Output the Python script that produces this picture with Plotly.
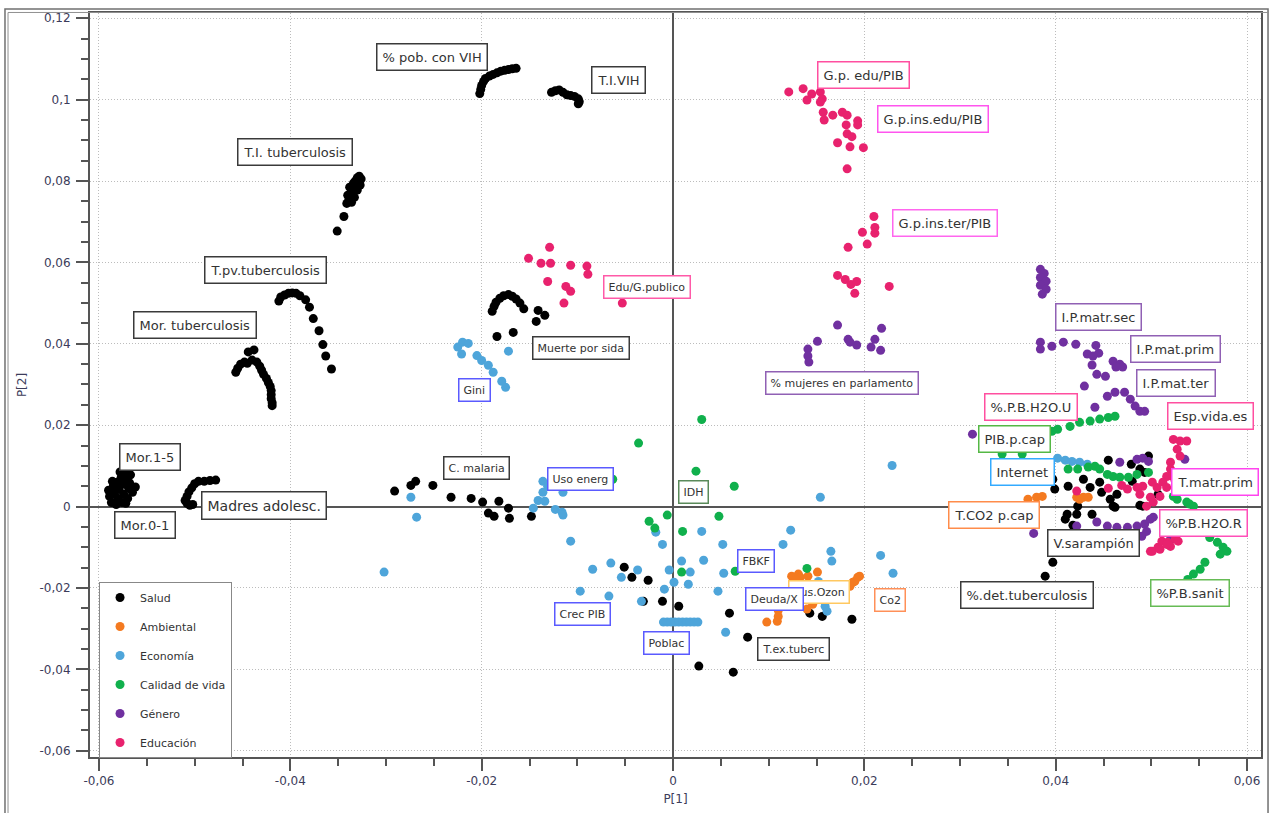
import plotly.graph_objects as go

# ---------------- data (P[1], P[2]) ----------------
salud_x = [-0.0590, -0.0589, -0.0587, -0.0585, -0.0584, -0.0582, -0.0581, -0.0580, -0.0579, -0.0577, -0.0576, -0.0575,
           -0.0574, -0.0573, -0.0571, -0.0570, -0.0569, -0.0567, -0.0565, -0.0562, -0.0586, -0.0578, -0.0572, -0.0568,
           -0.0510, -0.0508, -0.0505, -0.0502, -0.0508, -0.0506, -0.0503, -0.0500, -0.0496, -0.0490, -0.0484, -0.0478,
           -0.0457, -0.0455, -0.0452, -0.0448, -0.0445, -0.0444, -0.0440, -0.0438, -0.0435, -0.0432, -0.0430, -0.0428,
           -0.0425, -0.0423, -0.0421, -0.0420, -0.0420, -0.0420, -0.0419, -0.0419,
           -0.0412, -0.0410, -0.0406, -0.0402, -0.0398, -0.0394, -0.0390, -0.0384, -0.0380, -0.0376, -0.0370, -0.0366,
           -0.0363, -0.0357,
           -0.0351, -0.0344, -0.0341, -0.0339, -0.0340, -0.0336, -0.0338, -0.0334, -0.0332, -0.0330, -0.0328, -0.0326,
           -0.0327, -0.0330, -0.0333, -0.0336,
           -0.0202, -0.0201, -0.0200, -0.0198, -0.0196, -0.0192, -0.0188, -0.0184, -0.0180, -0.0176, -0.0172, -0.0168,
           -0.0164,
           -0.0127, -0.0123, -0.0119, -0.0115, -0.0111, -0.0107, -0.0103, -0.0099, -0.0098, -0.0099,
           -0.0189, -0.0187, -0.0185, -0.0181, -0.0177, -0.0172, -0.0168, -0.0164, -0.0160, -0.0156, -0.0141, -0.0134,
           -0.0143, -0.0184, -0.0167,
           -0.0291, -0.0274, -0.0269, -0.0251, -0.0232, -0.0211, -0.0199, -0.0182, -0.0172, -0.0193, -0.0187, -0.0171,
           -0.0148,
           -0.0051, -0.0043, -0.0026, -0.0031, -0.0011, 0.0006, 0.0059, 0.0078, 0.0027, 0.0063, 0.0143, 0.0156, 0.0187,
           0.0455, 0.0497, 0.0479, 0.0488, 0.0397, 0.0399, 0.0413, 0.0429, 0.0436, 0.0448, 0.0457, 0.0464, 0.0446,
           0.0423, 0.0412, 0.0422, 0.0438, 0.0410, 0.0418, 0.0460, 0.0462, 0.0488, 0.0491, 0.0480, 0.0493, 0.0507,
           0.0397, 0.0389]
salud_y = [0.0040, 0.0025, 0.0010, 0.0050, 0.0030, 0.0005, 0.0060, 0.0020, 0.0042, 0.0070, 0.0010, 0.0055,
           0.0030, 0.0082, 0.0065, 0.0020, 0.0045, 0.0078, 0.0035, 0.0048, 0.0062, 0.0085, 0.0008, 0.0058,
           0.0015, 0.0008, 0.0003, 0.0005, 0.0025, 0.0036, 0.0046, 0.0056, 0.0062, 0.0062, 0.0064, 0.0065,
           0.0330, 0.0340, 0.0350, 0.0355, 0.0352, 0.0380, 0.0360, 0.0385, 0.0355, 0.0345, 0.0335, 0.0325,
           0.0315, 0.0305, 0.0295, 0.0285, 0.0275, 0.0265, 0.0255, 0.0248,
           0.0505, 0.0515, 0.0520, 0.0524, 0.0525, 0.0524, 0.0518, 0.0508, 0.0490, 0.0462, 0.0432, 0.0398,
           0.0370, 0.0338,
           0.0677, 0.0713, 0.0745, 0.0752, 0.0765, 0.0772, 0.0785, 0.0795, 0.0800, 0.0808, 0.0812, 0.0805,
           0.0790, 0.0778, 0.0760, 0.0748,
           0.1015, 0.1025, 0.1035, 0.1045, 0.1052, 0.1058, 0.1062, 0.1066, 0.1070, 0.1072, 0.1074, 0.1076,
           0.1077,
           0.1018, 0.1022, 0.1024, 0.1018, 0.1012, 0.1010, 0.1008, 0.1002, 0.0995, 0.0990,
           0.0480, 0.0492, 0.0502, 0.0512, 0.0518, 0.0521, 0.0517, 0.0510, 0.0500, 0.0486, 0.0482, 0.0470,
           0.0455, 0.0418, 0.0428,
           0.0038, 0.0052, 0.0062, 0.0052, 0.0023, 0.0020, 0.0011, 0.0013, -0.0004, -0.0016, -0.0024, -0.0029,
           -0.0024,
           -0.0149, -0.0174, -0.0181, -0.0233, -0.0233, -0.0245, -0.0262, -0.0321, -0.0392, -0.0407, -0.0262, -0.0270,
           -0.0277,
           0.0114, 0.0124, 0.0104, 0.0092, 0.0067, 0.0043, 0.0050, 0.0067, 0.0047, 0.0035, 0.0018, 0.0030, 0.0060,
           0.0001, -0.0019, -0.0019, -0.0019, -0.0031, -0.0046, 0.0001, -0.0002, 0.0003, 0.0001, 0.0062, 0.0084, 0.0030,
           -0.0137, -0.0171]

ambiental_x = [0.0371, 0.0380, 0.0386, 0.0422, 0.0429, 0.0434, 0.0425,
               0.0124, 0.0131, 0.0133, 0.0141, 0.0151, 0.0140, 0.0110, 0.0110, 0.0098, 0.0109,
               0.0182, 0.0188, 0.0190, 0.0193, 0.0195, 0.0185, 0.0128, 0.0146]
ambiental_y = [0.0018, 0.0023, 0.0025, 0.0023, 0.0023, 0.0023, 0.0018,
               -0.0171, -0.0166, -0.0174, -0.0171, -0.0161, -0.0252, -0.0255, -0.0270, -0.0284, -0.0282,
               -0.0193, -0.0186, -0.0184, -0.0174, -0.0171, -0.0196, -0.0180, -0.0240]

economia_x = [-0.0225, -0.0221, -0.0220, -0.0214, -0.0205, -0.0200, -0.0193, -0.0188, -0.0179, -0.0175, -0.0172,
              -0.0302, -0.0274, -0.0268, -0.0146, -0.0141, -0.0136, -0.0136, -0.0134, -0.0123, -0.0116, -0.0115,
              -0.0115, -0.0107, -0.0131,
              -0.0084, -0.0065, -0.0054, -0.0037, -0.0097, -0.0067, -0.0033, -0.0018, -0.0011, -0.0009, -0.0004,
              0.0001, 0.0009, 0.0016, 0.0018, 0.0030, 0.0032, 0.0047, 0.0052, 0.0053, 0.0055, 0.0115, 0.0123,
              0.0154, 0.0165, 0.0166, 0.0217, 0.0230, 0.0229, 0.0159, 0.0161, 0.0152,
              -0.0010, -0.0006, -0.0002, 0.0002, 0.0006, 0.0010, 0.0014, 0.0018, 0.0022, 0.0026,
              0.0402, 0.0410, 0.0417, 0.0425, 0.0433]
economia_y = [0.0392, 0.0375, 0.0404, 0.0401, 0.0371, 0.0359, 0.0347, 0.0330, 0.0308, 0.0293, 0.0382,
              -0.0161, 0.0023, -0.0026, -0.0004, 0.0015, 0.0035, 0.0062, 0.0013, -0.0007, -0.0014, -0.0021,
              0.0035, -0.0085, 0.0050,
              -0.0154, -0.0139, -0.0174, -0.0156, -0.0208, -0.0220, -0.0233, -0.0063, -0.0093, -0.0203, -0.0156,
              -0.0186, -0.0134, -0.0191, -0.0161, -0.0061, -0.0132, -0.0208, -0.0093, -0.0164, -0.0309, -0.0093,
              -0.0058, 0.0023, -0.0110, -0.0134, -0.0120, -0.0164, 0.0101, -0.0245, -0.0257, -0.0184,
              -0.0284, -0.0284, -0.0284, -0.0284, -0.0284, -0.0284, -0.0284, -0.0284, -0.0284, -0.0284,
              0.0119, 0.0114, 0.0111, 0.0109, 0.0104]

calidad_x = [0.0030, -0.0036, 0.0024, 0.0064, -0.0063, -0.0006, -0.0025, -0.0019, 0.0010, 0.0048, 0.0009, 0.0065,
             0.0140,
             0.0387, 0.0396, 0.0402, 0.0415, 0.0425, 0.0436, 0.0446, 0.0455, 0.0462, 0.0344, 0.0365,
             0.0413, 0.0423, 0.0434, 0.0441, 0.0446, 0.0454, 0.0460, 0.0467, 0.0476, 0.0485, 0.0497,
             0.0523, 0.0540, 0.0527, 0.0537, 0.0544, 0.0554, 0.0561, 0.0569, 0.0575, 0.0579, 0.0572, 0.0556,
             0.0551, 0.0544, 0.0538]
calidad_y = [0.0214, 0.0156, 0.0087, 0.0050, 0.0067, -0.0021, -0.0036, -0.0053, -0.0061, -0.0024, -0.0161, -0.0159,
             -0.0152,
             0.0180, 0.0185, 0.0190, 0.0197, 0.0207, 0.0210, 0.0215, 0.0219, 0.0222, 0.0129, 0.0129,
             0.0092, 0.0092, 0.0097, 0.0099, 0.0092, 0.0079, 0.0074, 0.0072, 0.0072, 0.0079, 0.0084,
             0.0025, 0.0006, 0.0018, 0.0011, 0.0001, -0.0063, -0.0076, -0.0088, -0.0100, -0.0110, -0.0117, -0.0137,
             -0.0154, -0.0166, -0.0179]

genero_x = [0.0172, 0.0151, 0.0141, 0.0141, 0.0142, 0.0183, 0.0192, 0.0218, 0.0211, 0.0207, 0.0217, 0.0185,
            0.0384, 0.0388, 0.0384, 0.0390, 0.0384, 0.0390, 0.0386,
            0.0384, 0.0384, 0.0396, 0.0408, 0.0421, 0.0433, 0.0442, 0.0445, 0.0439, 0.0438, 0.0460, 0.0467,
            0.0470, 0.0463, 0.0443, 0.0452, 0.0430, 0.0454, 0.0462, 0.0472, 0.0478, 0.0483, 0.0488, 0.0493, 0.0441,
            0.0313, 0.0467, 0.0485, 0.0491, 0.0497, 0.0535, 0.0377, 0.0422, 0.0443, 0.0454, 0.0464, 0.0475,
            0.0485, 0.0493, 0.0499, 0.0502, 0.0520, 0.0490, 0.0495]
genero_y = [0.0446, 0.0406, 0.0387, 0.0370, 0.0355, 0.0411, 0.0397, 0.0438, 0.0411, 0.0392, 0.0384, 0.0404,
            0.0583, 0.0573, 0.0563, 0.0554, 0.0544, 0.0534, 0.0522,
            0.0404, 0.0387, 0.0394, 0.0404, 0.0399, 0.0375, 0.0396, 0.0377, 0.0370, 0.0348, 0.0357, 0.0350,
            0.0343, 0.0343, 0.0325, 0.0320, 0.0296, 0.0271, 0.0281, 0.0281, 0.0264, 0.0247, 0.0234, 0.0234, 0.0244,
            0.0178, 0.0109, 0.0116, 0.0119, 0.0111, 0.0116, -0.0066, -0.0048, -0.0038, -0.0048, -0.0051, -0.0051,
            -0.0048, -0.0043, -0.0031, -0.0026, -0.0080, -0.0073, -0.0061]

educacion_x = [0.0121, 0.0136, 0.0140, 0.0145, 0.0154, 0.0156, 0.0154, 0.0157, 0.0158, 0.0167, 0.0177, 0.0182,
               0.0181, 0.0193, 0.0193, 0.0182, 0.0187, 0.0172, 0.0185, 0.0199, 0.0182,
               0.0210, 0.0211, 0.0211, 0.0198, 0.0203, 0.0183, 0.0172, 0.0180, 0.0186, 0.0192, 0.0190, 0.0226,
               -0.0151, -0.0138, -0.0128, -0.0129, -0.0107, -0.0090, -0.0089, -0.0131, -0.0112, -0.0107, -0.0114,
               -0.0053,
               0.0523, 0.0530, 0.0537, 0.0527, 0.0530, 0.0520, 0.0520, 0.0516, 0.0512, 0.0506, 0.0501, 0.0491,
               0.0485, 0.0475, 0.0469, 0.0488, 0.0499, 0.0509, 0.0502, 0.0495, 0.0455, 0.0422, 0.0516, 0.0525, 0.0522,
               0.0499, 0.0507, 0.0511, 0.0517, 0.0525, 0.0520, 0.0501, 0.0509, 0.0516, 0.0528]
educacion_y = [0.1019, 0.1027, 0.0999, 0.1014, 0.1019, 0.1002, 0.0994, 0.0969, 0.0950, 0.0962, 0.0969, 0.0962,
               0.0938, 0.0948, 0.0938, 0.0916, 0.0909, 0.0894, 0.0884, 0.0882, 0.0830,
               0.0713, 0.0686, 0.0672, 0.0674, 0.0645, 0.0637, 0.0568, 0.0558, 0.0546, 0.0553, 0.0524, 0.0541,
               0.0610, 0.0598, 0.0598, 0.0637, 0.0593, 0.0591, 0.0571, 0.0553, 0.0541, 0.0529, 0.0500,
               0.0500,
               0.0165, 0.0161, 0.0161, 0.0141, 0.0124, 0.0109, 0.0092, 0.0074, 0.0060, 0.0047, 0.0060, 0.0050,
               0.0047, 0.0043, 0.0052, 0.0030, 0.0023, 0.0025, 0.0011, 0.0001, 0.0045, 0.0038, 0.0047, 0.0062, 0.0074,
               -0.0110, -0.0100, -0.0085, -0.0088, -0.0080, -0.0098, -0.0110, -0.0105, -0.0093, -0.0085]

series_names = ["Salud", "Ambiental", "Economía", "Calidad de vida", "Género", "Educación"]
series_x = [salud_x, ambiental_x, economia_x, calidad_x, genero_x, educacion_x]
series_y = [salud_y, ambiental_y, economia_y, calidad_y, genero_y, educacion_y]
series_colors = ["#000000", "#f47a20", "#4ea5da", "#10b04c", "#7030a0", "#e8226e"]

# variable labels
label_text = ["% pob. con VIH", "T.I.VIH", "T.I. tuberculosis", "T.pv.tuberculosis", "Mor. tuberculosis",
              "Mor.1-5", "Mor.0-1", "Madres adolesc.", "Muerte por sida", "Edu/G.publico", "Gini", "C. malaria",
              "Uso energ", "IDH", "% mujeres en parlamento", "G.p. edu/PIB", "G.p.ins.edu/PIB", "G.p.ins.ter/PIB",
              "I.P.matr.sec", "I.P.mat.prim", "I.P.mat.ter", "%.P.B.H2O.U", "Esp.vida.es", "PIB.p.cap", "Internet",
              "T.matr.prim", "T.CO2 p.cap", "%P.B.H2O.R", "V.sarampión", "%.det.tuberculosis", "%P.B.sanit",
              "Co2", "Sus.Ozon", "Deuda/X", "FBKF", "Crec PIB", "Poblac", "T.ex.tuberc"]
label_x = [-0.0252, -0.0057, -0.0395, -0.0426, -0.0500, -0.0547, -0.0552, -0.0428, -0.0096, -0.0027, -0.0207,
           -0.0205, -0.0097, 0.0021, 0.0177, 0.0199, 0.0272, 0.0284, 0.0445, 0.0525, 0.0526, 0.0374, 0.0562,
           0.0357, 0.0365, 0.0567, 0.0336, 0.0555, 0.0439, 0.0370, 0.0540, 0.0227, 0.0153, 0.0106, 0.0087,
           -0.0095, -0.0007, 0.0126]
label_y = [0.1105, 0.1048, 0.0871, 0.0581, 0.0446, 0.0121, -0.0046, 0.0003, 0.0389, 0.0539, 0.0286, 0.0094,
           0.0067, 0.0035, 0.0303, 0.1060, 0.0953, 0.0697, 0.0465, 0.0387, 0.0303, 0.0244, 0.0222, 0.0166,
           0.0084, 0.0060, -0.0021, -0.0041, -0.0090, -0.0218, -0.0213, -0.0230, -0.0211, -0.0228, -0.0134,
           -0.0265, -0.0336, -0.0350]
label_size = [13, 13, 13, 13, 13, 13, 13, 14, 11, 11, 11, 11, 11, 11, 11, 13, 13, 13, 13, 13, 13, 13, 13, 13,
              13, 13, 13, 13, 13, 13, 13, 11, 11, 11, 11, 11, 11, 11]
label_border = ["#3a3a3a", "#3a3a3a", "#3a3a3a", "#3a3a3a", "#3a3a3a", "#3a3a3a", "#3a3a3a", "#3a3a3a",
                "#3a3a3a", "#ff5aa8", "#5a5aff", "#3a3a3a", "#5a5aff", "#5a8a5a", "#9060b4", "#ff4fa0",
                "#ff55ee", "#ff66ee", "#9060b4", "#9060b4", "#9060b4", "#ff4fa0", "#ff4fa0", "#55b845",
                "#33aaff", "#ff44ee", "#ff8c4a", "#ff4fb8", "#3a3a3a", "#3a3a3a", "#66bb55", "#ff9058",
                "#ffc860", "#5a5aff", "#5a5aff", "#5a5aff", "#5a5aff", "#3a3a3a"]

x_tick_vals = [-0.06, -0.04, -0.02, 0, 0.02, 0.04, 0.06]
x_tick_text = ["-0,06", "-0,04", "-0,02", "0", "0,02", "0,04", "0,06"]
y_tick_vals = [-0.06, -0.04, -0.02, 0, 0.02, 0.04, 0.06, 0.08, 0.1, 0.12]
y_tick_text = ["-0,06", "-0,04", "-0,02", "0", "0,02", "0,04", "0,06", "0,08", "0,1", "0,12"]

FONT = "DejaVu Sans"
AXC = "#555555"

fig = go.Figure()
for i, name in enumerate(series_names):
    fig.add_trace(go.Scatter(
        x=series_x[i], y=series_y[i], mode="markers", name=name, legendgroup=name,
        marker=dict(color=series_colors[i], size=9, line=dict(width=0)),
    ))

annotations = []
for t, ax, ay, s, bc in zip(label_text, label_x, label_y, label_size, label_border):
    annotations.append(dict(
        x=ax, y=ay, xref="x", yref="y", text=t, showarrow=False,
        font=dict(family=FONT, size=s, color="#333333"),
        bgcolor="white", bordercolor=bc, borderwidth=1.5, borderpad=5 if s >= 13 else 4,
    ))

axis_common = dict(
    showgrid=True, gridcolor="#bcbcbc", griddash="1px,2px", gridwidth=1,
    zeroline=True, zerolinecolor=AXC, zerolinewidth=2,
    showline=True, linecolor=AXC, linewidth=2, mirror=True,
    ticks="outside", ticklen=12, tickwidth=1.5, tickcolor=AXC,
    tickfont=dict(family=FONT, size=12, color="#3c3c5a"),
    tickmode="array", automargin=False,
    minor=dict(tickmode="linear", tick0=0, dtick=0.005, ticklen=7, tickwidth=1.5, tickcolor=AXC,
               ticks="outside", showgrid=False),
)

fig.update_layout(
    width=1272, height=813,
    margin=dict(l=90, r=11, t=13, b=56),
    paper_bgcolor="white", plot_bgcolor="white",
    font=dict(family=FONT, size=12, color="#333333"),
    xaxis=dict(range=[-0.06094, 0.06146], tickvals=x_tick_vals, ticktext=x_tick_text,
               title=dict(text="P[1]", font=dict(family=FONT, size=12, color="#3c3c5a"), standoff=7),
               **axis_common),
    yaxis=dict(range=[-0.06155, 0.1213], tickvals=y_tick_vals, ticktext=y_tick_text,
               ticklabelstandoff=3,
               title=dict(text="P[2]", font=dict(family=FONT, size=12, color="#3c3c5a"), standoff=10),
               **axis_common),
    legend=dict(x=0.0077, y=0.2352, xanchor="left", yanchor="top",
                bgcolor="white", bordercolor="#888888", borderwidth=1,
                font=dict(family=FONT, size=11, color="#333333"),
                traceorder="grouped", tracegroupgap=10, itemwidth=30),
    annotations=annotations,
    shapes=[
        dict(type="rect", xref="paper", yref="paper", x0=-0.0726, x1=1.0060, y0=-0.09, y1=1.0054,
             line=dict(color="#707070", width=1.5), layer="below"),
        dict(type="line", xref="paper", yref="paper", x0=-0.0700, x1=-0.0700, y0=-0.09, y1=1.0007,
             line=dict(color="#909090", width=1)),
        dict(type="line", xref="paper", yref="paper", x0=-0.0700, x1=1.0060, y0=1.0007, y1=1.0007,
             line=dict(color="#909090", width=1)),
    ],
)

fig.write_html("out.html")
